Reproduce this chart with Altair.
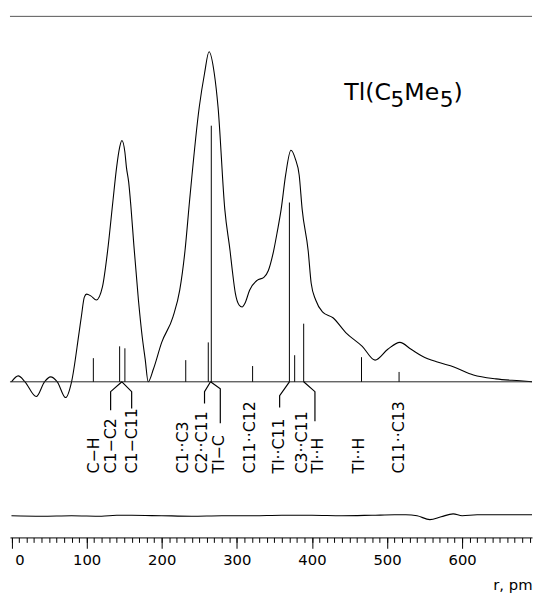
import altair as alt
import pandas as pd

# ---- radial distribution curve (r in pm, intensity in arbitrary units) ----
curve_r = [0, 9, 18, 33, 44, 52, 61, 72, 80, 90, 93, 97, 100, 106, 113, 121, 128, 135, 140, 144,
           147, 151, 153, 156, 159, 163, 169, 174, 178, 182, 189, 200, 215, 224, 231, 237, 250,
           257, 263, 270, 275, 284, 291, 294, 298, 303, 307, 311, 317, 327, 336, 342, 349, 354,
           359, 365, 372, 378, 383, 387, 395, 399, 405, 414, 428, 445, 467, 484, 501, 517, 532,
           547, 567, 589, 615, 645, 677, 693]
curve_v = [0, 6, 0, -15, 0, 5, 0, -16, 0, 50, 66, 86, 89, 87, 83, 96, 133, 183, 218, 238,
           245, 233, 218, 203, 178, 138, 83, 46, 23, 0, 13, 40, 66, 93, 133, 183, 279,
           313, 335, 313, 279, 175, 133, 113, 90, 78, 76, 80, 93, 103, 106, 113, 133, 153,
           175, 210, 235, 226, 210, 175, 133, 100, 83, 71, 65, 50, 36, 22, 33, 40, 33,
           26, 20, 15, 7, 3, 1, 0]

# ---- difference curve (experimental - model), drawn offset below ----
diff_r = [0, 40, 80, 120, 140, 160, 200, 240, 280, 320, 360, 400, 440, 480, 510, 525, 540,
          557, 572, 588, 600, 620, 650, 693]
diff_v = [-136, -136.5, -136, -136.5, -135.5, -135.5, -136, -136.5, -136, -136, -135.5, -135.5,
          -136, -135.5, -135, -135, -136, -140, -137, -134, -136, -135, -135, -135]

# ---- interatomic distances (sticks) ----
stick_r = [109, 144, 151, 232, 262, 266, 321, 370, 377, 389, 466, 516]
stick_h = [24, 36, 34, 22, 40, 260, 16, 182, 27, 59, 25, 10]

# ---- distance labels ----
label_text = ["C\u2212H", "C1\u2212C2", "C1\u2212C11", "C1\u00b7\u00b7C3", "C2\u00b7\u00b7C11",
              "Tl\u2212C", "C11\u00b7\u00b7C12", "Tl\u00b7\u00b7C11", "C3\u00b7\u00b7C11",
              "Tl\u00b7\u00b7H", "Tl\u00b7\u00b7H", "C11\u00b7\u00b7C13"]
label_r = [110, 132, 160, 228, 254, 277, 318, 356, 387, 408, 463, 516]
label_base = -93

# ---- leader lines from the axis to the labels ----
leg_from_r = [147, 147, 265, 265, 370, 389]
leg_to_r = [132, 160, 257, 278, 357, 404]
leg_bend_v = [-10, -10, -10, -7, -14, -10]
leg_end_v = [-29, -27, -22, -42, -26, -40]

major_ticks = [0, 100, 200, 300, 400, 500, 600]
minor_ticks = list(range(0, 700, 10))

title_parts = ["Tl(C", "5", "Me", "5", ")"]
title_r, title_v = 443, 286

FONT = "DejaVu Sans"
xs = alt.Scale(domain=[-2, 693], nice=False, zero=False)
ys = alt.Scale(domain=[-158, 371], nice=False, zero=False)

curve_df = pd.DataFrame({"r": curve_r, "v": curve_v})
diff_df = pd.DataFrame({"r": diff_r, "v": diff_v})
stick_df = pd.DataFrame({"r": stick_r, "h": stick_h, "z": [0] * len(stick_r)})
label_df = pd.DataFrame({"r": label_r, "t": label_text, "v": [label_base] * len(label_r)})

leg_rows = []
for i in range(len(leg_from_r)):
    leg_rows.append({"leg": i, "o": 0, "r": leg_from_r[i], "v": 0})
    leg_rows.append({"leg": i, "o": 1, "r": leg_to_r[i], "v": leg_bend_v[i]})
    leg_rows.append({"leg": i, "o": 2, "r": leg_to_r[i], "v": leg_end_v[i]})
leg_df = pd.DataFrame(leg_rows)

one = pd.DataFrame({"a": [0]})

curve = alt.Chart(curve_df).mark_line(color="black", strokeWidth=1.1, interpolate="monotone").encode(
    x=alt.X("r:Q", scale=xs, axis=alt.Axis(values=minor_ticks, tickSize=5, labels=False, domain=True,
                                           domainColor="black", tickColor="black", title=None,
                                           grid=False, orient="bottom")),
    y=alt.Y("v:Q", scale=ys, axis=alt.Axis(domain=True, ticks=False, labels=False, title=None,
                                           grid=False, domainColor="black")),
)

diff = alt.Chart(diff_df).mark_line(color="black", strokeWidth=1.2, interpolate="monotone").encode(
    x=alt.X("r:Q", scale=xs, axis=alt.Axis(
        values=major_ticks, tickSize=11, tickColor="black", domain=False, grid=False,
        labelFont=FONT, labelFontSize=15, labelColor="black", labelPadding=4,
        labelOffset={"condition": {"test": "datum.value === 0", "value": 8}, "value": 0},
        title="r,  pm", titleFont=FONT, titleFontSize=15, titleFontWeight="normal",
        titleColor="black", titleX=530, titleY=53, titleAlign="right",
        titleBaseline="alphabetic", orient="bottom")),
    y=alt.Y("v:Q", scale=ys, axis=None),
)

baseline = alt.Chart(one).mark_rule(color="#222", strokeWidth=1).encode(y=alt.datum(0, scale=ys))
topline = alt.Chart(one).mark_rule(color="#555", strokeWidth=1).encode(y=alt.value(0))

sticks = alt.Chart(stick_df).mark_rule(color="black", strokeWidth=1).encode(
    x=alt.X("r:Q", scale=xs, axis=None),
    y=alt.Y("z:Q", scale=ys, axis=None),
    y2="h:Q",
)

legs = alt.Chart(leg_df).mark_line(color="black", strokeWidth=1.2).encode(
    x=alt.X("r:Q", scale=xs, axis=None),
    y=alt.Y("v:Q", scale=ys, axis=None),
    detail="leg:N",
    order="o:Q",
)

labels = alt.Chart(label_df).mark_text(angle=270, align="left", baseline="middle", font=FONT,
                                       fontSize=16, color="black").encode(
    x=alt.X("r:Q", scale=xs, axis=None),
    y=alt.Y("v:Q", scale=ys, axis=None),
    text="t:N",
)

title_sizes = [24, 22, 24, 22, 24]
title_dx = [0, 47, 61, 97, 111]
title_dy = [0, 7, 0, 7, 0]
title_layers = []
for part, fs, dx, dy in zip(title_parts, title_sizes, title_dx, title_dy):
    tdf = pd.DataFrame({"r": [title_r], "v": [title_v], "t": [part]})
    title_layers.append(
        alt.Chart(tdf).mark_text(align="left", baseline="alphabetic", font=FONT, fontSize=fs,
                                 dx=dx, dy=dy, color="black").encode(
            x=alt.X("r:Q", scale=xs, axis=None),
            y=alt.Y("v:Q", scale=ys, axis=None),
            text="t:N",
        )
    )

chart = alt.layer(curve, diff, baseline, topline, sticks, legs, labels, *title_layers).resolve_axis(
    x="independent"
).properties(
    width=530, height=529,
    padding={"left": 2, "top": 4, "right": 2, "bottom": 57},
    autosize=alt.AutoSizeParams(type="none"),
    background="white",
).configure_view(stroke=None)

chart.save("out.html", embed_options={"renderer": "svg", "actions": False})
